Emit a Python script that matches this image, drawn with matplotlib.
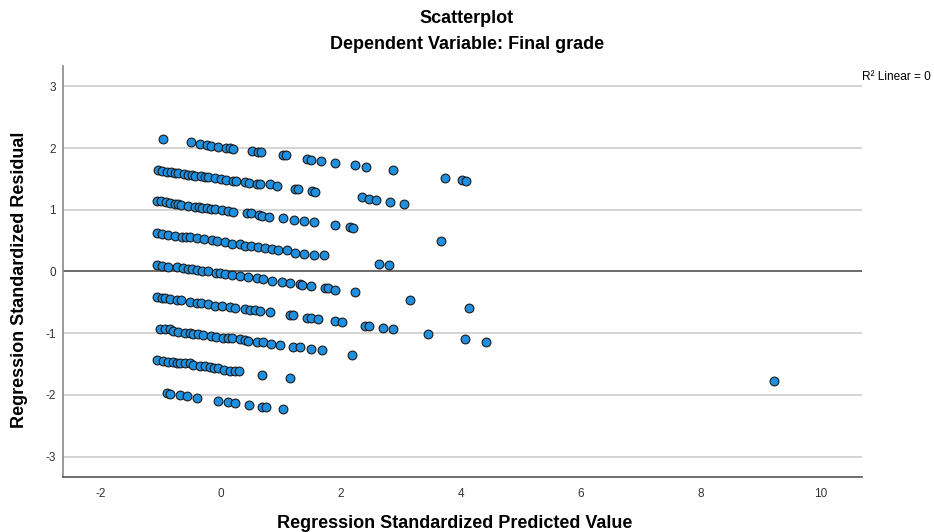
# Residuals vs predicted scatter (SPSS style)
import numpy as np
import matplotlib
matplotlib.use('Agg')
import matplotlib.pyplot as plt

# ── Data: one stripe per observed grade level ───────────
grade_a_x = [-0.97, -0.50, -0.35, -0.23, -0.17, -0.05, 0.08, 0.15, 0.20, 0.52, 0.62, 0.67,
             1.03, 1.08, 1.43, 1.50, 1.67, 1.90, 2.23, 2.42, 2.87, 3.73, 4.02, 4.08]
grade_a_y = [2.15, 2.09, 2.07, 2.05, 2.04, 2.02, 2.00, 2.00, 1.99, 1.96, 1.94, 1.94,
             1.88, 1.88, 1.83, 1.81, 1.79, 1.76, 1.73, 1.70, 1.64, 1.52, 1.49, 1.47]

grade_b_x = [-1.05, -0.98, -0.90, -0.83, -0.77, -0.72, -0.62, -0.55, -0.48, -0.43, -0.33,
             -0.27, -0.22, -0.10, 0.00, 0.08, 0.20, 0.25, 0.40, 0.47, 0.60, 0.65, 0.82,
             0.93, 1.23, 1.28, 1.52, 1.57, 2.35, 2.47, 2.58, 2.82, 3.05]
grade_b_y = [1.65, 1.63, 1.62, 1.62, 1.60, 1.60, 1.58, 1.57, 1.57, 1.55, 1.55,
             1.53, 1.53, 1.52, 1.50, 1.49, 1.47, 1.47, 1.45, 1.44, 1.42, 1.42, 1.41,
             1.39, 1.34, 1.34, 1.31, 1.29, 1.20, 1.18, 1.16, 1.13, 1.10]

grade_c_x = [-1.07, -1.00, -0.92, -0.85, -0.77, -0.72, -0.67, -0.55, -0.43, -0.37, -0.32,
             -0.23, -0.17, -0.10, 0.02, 0.12, 0.20, 0.43, 0.50, 0.63, 0.68, 0.80, 1.03,
             1.22, 1.38, 1.55, 1.90, 2.15, 2.20, 3.67]
grade_c_y = [1.15, 1.15, 1.13, 1.11, 1.10, 1.10, 1.08, 1.06, 1.05, 1.05, 1.03,
             1.03, 1.02, 1.02, 1.00, 0.98, 0.97, 0.94, 0.94, 0.92, 0.90, 0.89, 0.86,
             0.84, 0.81, 0.80, 0.75, 0.72, 0.70, 0.50]

grade_d_x = [-1.07, -0.98, -0.88, -0.77, -0.65, -0.58, -0.52, -0.40, -0.28, -0.15, -0.07,
             0.07, 0.18, 0.32, 0.40, 0.50, 0.62, 0.73, 0.85, 0.95, 1.10, 1.23, 1.38,
             1.55, 1.72, 2.63, 2.80]
grade_d_y = [0.63, 0.61, 0.59, 0.58, 0.56, 0.56, 0.56, 0.55, 0.53, 0.51, 0.50,
             0.47, 0.45, 0.44, 0.42, 0.42, 0.40, 0.38, 0.37, 0.35, 0.34, 0.30, 0.29,
             0.27, 0.26, 0.12, 0.11]

grade_e_x = [-1.07, -0.98, -0.88, -0.73, -0.63, -0.55, -0.48, -0.40, -0.32, -0.22, -0.08,
             -0.02, 0.07, 0.18, 0.32, 0.45, 0.60, 0.70, 0.85, 1.02, 1.15, 1.32, 1.35,
             1.50, 1.73, 1.78, 1.90, 2.23, 3.15, 4.13]
grade_e_y = [0.11, 0.09, 0.08, 0.08, 0.06, 0.04, 0.04, 0.03, 0.01, 0.00, -0.02,
             -0.02, -0.04, -0.05, -0.07, -0.09, -0.10, -0.12, -0.15, -0.17, -0.18, -0.20, -0.22,
             -0.23, -0.26, -0.26, -0.30, -0.33, -0.46, -0.59]

grade_f_x = [-1.07, -0.98, -0.93, -0.85, -0.73, -0.67, -0.52, -0.40, -0.33, -0.22, -0.10,
             0.02, 0.15, 0.23, 0.40, 0.48, 0.57, 0.65, 0.82, 1.15, 1.20, 1.43, 1.50,
             1.62, 1.90, 2.02, 2.40, 2.47, 2.70, 2.87, 3.45, 4.07, 4.42]
grade_f_y = [-0.41, -0.43, -0.43, -0.44, -0.46, -0.46, -0.49, -0.51, -0.51, -0.52, -0.56,
             -0.56, -0.57, -0.59, -0.60, -0.62, -0.62, -0.64, -0.65, -0.70, -0.70, -0.75, -0.75,
             -0.77, -0.80, -0.82, -0.88, -0.88, -0.91, -0.94, -1.01, -1.09, -1.14]

grade_g_x = [-1.02, -0.93, -0.85, -0.80, -0.72, -0.60, -0.52, -0.47, -0.38, -0.30, -0.17,
             -0.08, 0.03, 0.12, 0.18, 0.32, 0.40, 0.45, 0.60, 0.70, 0.83, 0.98, 1.20,
             1.32, 1.50, 1.68, 2.18]
grade_g_y = [-0.93, -0.94, -0.94, -0.96, -0.98, -0.99, -0.99, -1.01, -1.01, -1.03, -1.04,
             -1.06, -1.07, -1.07, -1.07, -1.09, -1.11, -1.12, -1.14, -1.15, -1.17, -1.19, -1.22,
             -1.23, -1.26, -1.28, -1.35]

grade_h_x = [-1.07, -0.97, -0.88, -0.80, -0.73, -0.68, -0.60, -0.52, -0.47, -0.35, -0.27,
             -0.18, -0.12, -0.05, 0.05, 0.15, 0.23, 0.30, 0.68, 1.15]
grade_h_y = [-1.43, -1.45, -1.46, -1.46, -1.48, -1.48, -1.49, -1.49, -1.51, -1.53, -1.53,
             -1.54, -1.56, -1.57, -1.59, -1.61, -1.61, -1.62, -1.67, -1.72]

grade_i_x = [-0.90, -0.85, -0.68, -0.57, -0.40, -0.05, 0.12, 0.23, 0.47, 0.68, 0.75, 1.03]
grade_i_y = [-1.97, -1.98, -2.00, -2.02, -2.05, -2.10, -2.12, -2.13, -2.16, -2.19, -2.19, -2.23]

outlier_x = [9.22]
outlier_y = [-1.77]

x_ticks = [-2, 0, 2, 4, 6, 8, 10]
y_ticks = [-3, -2, -1, 0, 1, 2, 3]

pred = np.concatenate([grade_a_x, grade_b_x, grade_c_x, grade_d_x, grade_e_x,
                       grade_f_x, grade_g_x, grade_h_x, grade_i_x, outlier_x])
resid = np.concatenate([grade_a_y, grade_b_y, grade_c_y, grade_d_y, grade_e_y,
                        grade_f_y, grade_g_y, grade_h_y, grade_i_y, outlier_y])

# ── Figure ──────────────────────────────────────────────
plt.rcParams['font.family'] = ['Liberation Sans', 'DejaVu Sans']
plt.rcParams['axes.unicode_minus'] = False   # SPSS uses a plain hyphen

fig = plt.figure(figsize=(9.34, 5.32), dpi=100)
ax = fig.add_axes([0.0675, 0.1034, 0.8554, 0.7726])

# horizontal grid + zero reference line
for yv in y_ticks:
    if yv == 0:
        continue
    ax.axhline(yv, color='#d4d4d4', linewidth=1.4, zorder=0)
ax.axhline(0, color='#5f5f5f', linewidth=1.3, zorder=1)

ax.scatter(pred, resid, s=40, color='#1f8fe0', edgecolor='#1a1a1a',
           linewidth=0.8, zorder=3)

ax.set_xlim(-2.63, 10.68)
ax.set_ylim(-3.33, 3.33)
ax.set_xticks(x_ticks)
ax.set_yticks(y_ticks)
ax.tick_params(length=0, labelsize=8.5, colors='#333333')
ax.tick_params(axis='x', pad=8)
ax.tick_params(axis='y', pad=5)

for side in ['top', 'right']:
    ax.spines[side].set_visible(False)
ax.spines['left'].set_color('#8a8a8a')
ax.spines['bottom'].set_color('#555555')
ax.spines['left'].set_linewidth(1.2)
ax.spines['bottom'].set_linewidth(1.2)

ax.set_xlabel('Regression Standardized Predicted Value', fontsize=13,
              fontweight='bold', va='center')
ax.set_ylabel('Regression Standardized Residual', fontsize=13,
              fontweight='bold', va='center')
ax.xaxis.set_label_coords(0.49, -0.113)
ax.yaxis.set_label_coords(-0.054, 0.48)

fig.text(0.5, 0.966, 'Scatterplot', ha='center', va='center',
         fontsize=13, fontweight='bold')
fig.text(0.5, 0.917, 'Dependent Variable: Final grade', ha='center',
         va='center', fontsize=13, fontweight='bold')
ax.text(1.0, 0.973, 'R\u00b2 Linear = 0', transform=ax.transAxes,
        ha='left', va='center', fontsize=8.6)

plt.savefig('out.png', dpi=100)
